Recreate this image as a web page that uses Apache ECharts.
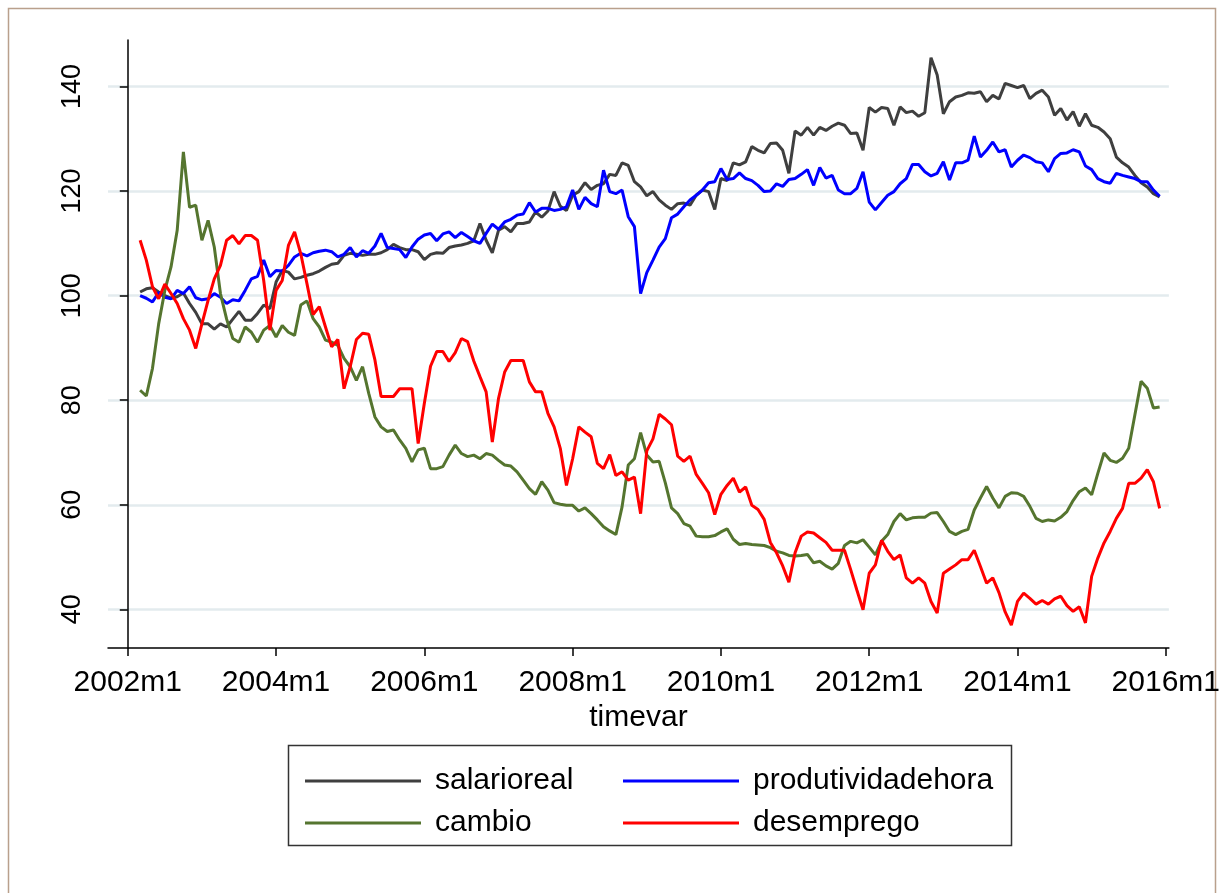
<!DOCTYPE html>
<html>
<head>
<meta charset="utf-8">
<script src="https://cdn.jsdelivr.net/npm/echarts@6/dist/echarts.min.js"></script>
<style>
  html, body { margin: 0; padding: 0; background: #fff; }
  #main { width: 1223px; height: 893px; }
</style>
</head>
<body>
<div id="main"></div>
<script>
// months counted from 2002m1 = 0; series run 2002m3 .. 2015m12
const firstMonth = 2
const tickMonths = [0, 24, 48, 72, 96, 120, 144, 168]
const tickLabels = ['2002m1', '2004m1', '2006m1', '2008m1', '2010m1', '2012m1', '2014m1', '2016m1']
const yTicks = [40, 60, 80, 100, 120, 140]

const salarioreal = [
  100.7, 101.3, 101.5, 100.7, 100.0, 99.5, 99.8, 100.5, 98.5, 96.8,
  94.6, 94.6, 93.6, 94.6, 94.0, 95.5, 97.0, 95.3, 95.3, 96.6,
  98.2, 97.5, 102.6, 104.8, 104.5, 103.2, 103.5, 103.9, 104.2, 104.7,
  105.4, 106.0, 106.2, 107.7, 108.1, 107.9, 107.7, 107.9, 107.9, 108.2,
  108.8, 109.8, 109.2, 108.8, 108.8, 108.4, 106.9, 107.9, 108.2, 108.1,
  109.2, 109.5, 109.7, 110.0, 110.5, 113.8, 110.6, 108.2, 112.5, 113.2,
  112.2, 113.8, 113.8, 114.1, 116.0, 115.0, 116.2, 119.9, 117.1, 116.3,
  119.2, 119.9, 121.6, 120.3, 121.1, 121.4, 123.2, 123.0, 125.4, 124.9,
  121.8, 120.8, 119.1, 119.9, 118.3, 117.3, 116.5, 117.6, 117.7, 117.3,
  119.2, 120.2, 119.9, 116.5, 122.4, 122.0, 125.4, 125.0, 125.6, 128.5,
  127.8, 127.3, 129.1, 129.2, 127.8, 123.4, 131.5, 130.7, 132.2, 130.7,
  132.2, 131.6, 132.4, 133.0, 132.6, 131.0, 131.1, 127.8, 136.0, 135.1,
  136.0, 135.8, 132.6, 136.1, 135.0, 135.3, 134.3, 135.0, 145.5, 142.2,
  134.8, 137.1, 138.0, 138.3, 138.8, 138.7, 139.0, 137.1, 138.3, 137.6,
  140.6, 140.2, 139.8, 140.2, 137.7, 138.7, 139.3, 138.0, 134.5, 135.8,
  133.6, 135.2, 132.4, 134.8, 132.6, 132.2, 131.3, 130.0, 126.5, 125.4,
  124.6, 123.0, 121.6, 120.8, 119.5, 118.9
]

const produtividadehora = [
  100.0, 99.5, 98.8, 100.6, 99.7, 99.4, 101.0, 100.4, 101.7, 99.6,
  99.2, 99.4, 100.4, 99.7, 98.5, 99.2, 99.0, 101.0, 103.2, 103.7,
  106.8, 103.6, 104.8, 104.7, 105.8, 107.4, 108.1, 107.6, 108.2, 108.5,
  108.7, 108.4, 107.4, 107.9, 109.2, 107.4, 108.6, 108.1, 109.5, 111.9,
  109.2, 109.0, 108.8, 107.3, 109.3, 110.8, 111.6, 111.9, 110.5, 111.8,
  112.2, 111.1, 112.1, 111.3, 110.5, 110.0, 111.9, 113.7, 112.7, 114.1,
  114.6, 115.4, 115.6, 117.8, 116.0, 116.7, 116.7, 116.3, 116.5, 117.0,
  120.2, 116.5, 118.8, 117.6, 117.0, 124.0, 119.9, 119.5, 120.2, 115.1,
  113.2, 100.4, 104.4, 106.8, 109.3, 110.9, 114.9, 115.6, 117.0, 118.3,
  119.2, 120.2, 121.6, 121.8, 124.3, 122.2, 122.4, 123.5, 122.4, 122.0,
  121.1, 119.9, 120.0, 121.4, 120.9, 122.2, 122.4, 123.2, 124.1, 121.1,
  124.5, 122.5, 123.0, 120.2, 119.5, 119.5, 120.5, 123.7, 117.9, 116.4,
  117.8, 119.2, 119.9, 121.4, 122.4, 125.1, 125.1, 123.7, 122.9, 123.4,
  125.6, 122.1, 125.4, 125.4, 125.9, 130.5, 126.5, 127.8, 129.4, 127.5,
  127.9, 124.6, 125.9, 126.9, 126.4, 125.6, 125.4, 123.7, 126.2, 127.2,
  127.3, 127.9, 127.5, 124.8, 124.1, 122.4, 121.8, 121.5, 123.4, 123.0,
  122.7, 122.4, 121.8, 121.8, 120.2, 119.0
]

const cambio = [
  81.9, 80.8, 86.1, 94.6, 101.0, 105.5, 112.5, 127.5, 116.9, 117.3,
  110.6, 114.4, 109.3, 100.4, 95.5, 91.8, 91.1, 94.0, 93.0, 91.1,
  93.4, 94.3, 92.1, 94.3, 93.0, 92.4, 98.2, 99.0, 95.6, 94.0,
  91.5, 91.1, 90.5, 88.0, 86.4, 83.8, 86.4, 81.3, 76.8, 74.9,
  74.0, 74.3, 72.4, 70.8, 68.2, 70.5, 70.8, 66.9, 66.9, 67.3,
  69.5, 71.4, 69.8, 69.2, 69.5, 68.8, 69.8, 69.5, 68.5, 67.6,
  67.4, 66.3, 64.7, 63.1, 62.0, 64.4, 62.8, 60.4, 60.1, 59.9,
  59.9, 58.8, 59.4, 58.3, 57.1, 55.8, 55.0, 54.3, 59.6, 67.6,
  68.8, 73.8, 69.5, 68.2, 68.3, 64.2, 59.4, 58.3, 56.4, 55.9,
  54.0, 53.9, 53.9, 54.1, 54.8, 55.4, 53.4, 52.4, 52.6, 52.4,
  52.3, 52.2, 51.8, 51.1, 50.8, 50.3, 50.2, 50.3, 50.5, 48.9,
  49.2, 48.3, 47.7, 48.8, 52.2, 53.0, 52.7, 53.3, 51.9, 50.4,
  53.0, 54.3, 56.8, 58.3, 57.1, 57.5, 57.6, 57.6, 58.4, 58.5,
  56.8, 54.9, 54.3, 54.9, 55.3, 59.0, 61.3, 63.5, 61.3, 59.4,
  61.6, 62.3, 62.2, 61.6, 59.7, 57.4, 56.8, 57.1, 56.9, 57.6,
  58.7, 60.8, 62.5, 63.2, 61.9, 66.0, 69.9, 68.5, 68.1, 68.9,
  70.8, 77.2, 83.6, 82.3, 78.5, 78.7
]

const desemprego = [
  110.6, 106.8, 101.7, 99.4, 102.2, 100.4, 98.5, 95.6, 93.4, 89.9,
  94.6, 99.1, 103.2, 105.8, 110.6, 111.5, 109.9, 111.5, 111.5, 110.6,
  102.9, 93.4, 101.0, 102.9, 109.6, 112.2, 108.0, 102.3, 96.4, 97.9,
  94.0, 90.2, 91.6, 82.2, 86.4, 91.6, 92.8, 92.6, 87.7, 80.7,
  80.7, 80.7, 82.2, 82.2, 82.2, 71.7, 79.4, 86.5, 89.3, 89.3,
  87.4, 89.1, 91.8, 91.2, 87.5, 84.5, 81.6, 72.0, 80.3, 85.4,
  87.6, 87.6, 87.6, 83.5, 81.6, 81.6, 77.5, 74.9, 70.8, 63.7,
  68.8, 74.9, 73.9, 73.0, 67.9, 66.9, 69.6, 65.6, 66.3, 64.7,
  65.3, 58.3, 70.3, 72.6, 77.3, 76.4, 75.3, 69.3, 68.3, 69.3,
  65.8, 64.1, 62.3, 58.1, 62.0, 63.7, 65.1, 62.4, 63.4, 59.9,
  59.1, 57.2, 52.8, 50.8, 48.3, 45.2, 50.8, 54.0, 54.8, 54.6,
  53.7, 52.8, 51.3, 51.3, 51.3, 47.6, 43.7, 39.9, 46.9, 48.5,
  53.2, 51.1, 49.5, 50.4, 46.0, 45.0, 46.0, 45.0, 41.5, 39.3,
  46.9, 47.7, 48.5, 49.5, 49.5, 51.3, 48.2, 45.0, 46.0, 43.2,
  39.5, 37.0, 41.5, 43.1, 42.1, 41.0, 41.7, 41.0, 42.0, 42.5,
  40.7, 39.6, 40.5, 37.4, 46.3, 49.8, 52.7, 54.9, 57.4, 59.3,
  64.1, 64.1, 65.1, 66.7, 64.4, 59.3
]

const font = 'Liberation Sans, Arial, Helvetica, sans-serif'

// pair each value with its month index
function withMonths(vals) {
  return vals.map((v, i) => [firstMonth + i, v])
}

let myChart = echarts.init(document.getElementById('main'))

function lineSeries(name, data, color) {
  return {
    name: name,
    type: 'line',
    data: withMonths(data),
    showSymbol: false,
    symbol: 'none',
    lineStyle: { color: color, width: 3 },
    itemStyle: { color: color },
  }
}

function legendItem(name, left, top) {
  return {
    data: [name],
    left: left,
    top: top,
    icon: 'rect',
    itemWidth: 116,
    itemHeight: 3,
    selectedMode: false,
    textStyle: { fontFamily: font, fontSize: 30, color: '#000', padding: [0, 0, 0, 9] },
  }
}

let option = {
  animation: false,
  backgroundColor: '#fff',
  grid: { left: 108, right: 48, top: 40, bottom: 245 },
  xAxis: {
    type: 'value',
    min: -3.2,
    max: 168.5,
    name: 'timevar',
    nameLocation: 'middle',
    nameGap: 52,
    nameTextStyle: { fontFamily: font, fontSize: 30, color: '#000' },
    axisLine: { onZero: false, lineStyle: { color: '#000', width: 1.5 } },
    axisTick: { length: 8, lineStyle: { color: '#000', width: 1.5 }, customValues: tickMonths },
    axisLabel: {
      customValues: tickMonths,
      margin: 20,
      fontFamily: font,
      fontSize: 30,
      color: '#000',
      formatter: (v) => tickLabels[tickMonths.indexOf(v)],
    },
    splitLine: { show: false },
  },
  yAxis: {
    type: 'value',
    min: 32.6,
    max: 148.9,
    axisLine: { show: true, lineStyle: { color: '#000', width: 1.5 } },
    axisTick: { show: true, length: 8, lineStyle: { color: '#000', width: 1.5 }, customValues: yTicks },
    axisLabel: {
      customValues: yTicks,
      rotate: 90,
      margin: 22,
      fontFamily: font,
      fontSize: 27,
      color: '#000',
    },
    splitLine: { show: true, lineStyle: { color: '#e3ebee', width: 2.5 } },
  },
  legend: [
    legendItem('salarioreal', 300, 761),
    legendItem('produtividadehora', 618, 761),
    legendItem('cambio', 300, 803),
    legendItem('desemprego', 618, 803),
  ],
  graphic: [
    {
      type: 'rect',
      shape: { x: 8.5, y: 8.5, width: 1207, height: 890 },
      style: { fill: null, stroke: '#b9a08c', lineWidth: 1.5 },
      silent: true,
    },
    {
      type: 'rect',
      shape: { x: 288.5, y: 745.5, width: 723, height: 100 },
      style: { fill: null, stroke: '#333', lineWidth: 1.5 },
      silent: true,
    },
  ],
  series: [
    lineSeries('salarioreal', salarioreal, '#3f3f3f'),
    lineSeries('produtividadehora', produtividadehora, '#0000ff'),
    lineSeries('cambio', cambio, '#55752f'),
    lineSeries('desemprego', desemprego, '#ff0000'),
  ],
}
myChart.setOption(option) // 绘制画布
</script>
</body>
</html>
